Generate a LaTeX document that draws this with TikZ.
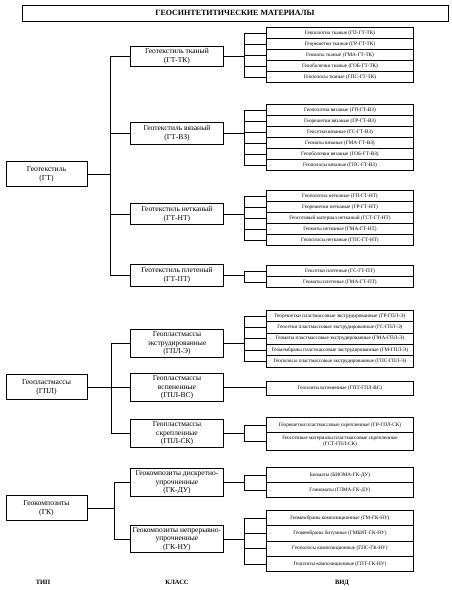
\documentclass[tikz,border=0pt]{standalone}
\usepackage{fontspec}
\setmainfont{Liberation Serif}
\usepackage{tikz}
\tikzset{
  box/.style={draw, line width=.9pt, inner sep=1pt, align=center},
  typebox/.style={box, minimum width=81pt, minimum height=25pt, font=\fontsize{7.6}{9}\selectfont},
  classbox/.style={box, minimum width=93pt, anchor=north west, font=\fontsize{7.5}{8.6}\selectfont},
  kindbox/.style={box, minimum width=147pt, anchor=north west, inner sep=0pt, font=\fontsize{5.2}{6}\selectfont},
  heading/.style={font=\bfseries\fontsize{6.5}{8}\selectfont},
  link/.style={line width=.9pt}
}
\begin{document}
\begin{tikzpicture}[x=1pt,y=-1pt]
    \useasboundingbox (0,0) rectangle (451,590);

    % Title
    \node[box, minimum width=426pt, minimum height=16pt, font=\bfseries\fontsize{8}{9}\selectfont] (title) at (235,13) {ГЕОСИНТЕТИТИЧЕСКИЕ МАТЕРИАЛЫ};

    % Trunks and bracket columns
    \coordinate (gttrunk) at (110,0);
    \coordinate (gpltrunk) at (111,0);
    \coordinate (gktrunk) at (114,0);
    \coordinate (kx) at (244,0);

    % Types
    \node[typebox] (gt) at (46.5,174) {Геотекстиль\\(ГТ)};
    \node[typebox] (gpl) at (46.5,387) {Геопластмассы\\(ГПЛ)};
    \node[typebox] (gk) at (46.5,508) {Геокомпозиты\\(ГК)};

    % Classes
    \node[classbox, minimum height=20pt] (gttk) at (130,46) {Геотекстиль тканый\\(ГТ-ТК)};
    \node[classbox, minimum height=22pt] (gtvz) at (130,122) {Геотекстиль вязаный\\(ГТ-ВЗ)};
    \node[classbox, minimum height=21pt] (gtnt) at (130,203) {Геотекстиль нетканый\\(ГТ-НТ)};
    \node[classbox, minimum height=22pt] (gtpt) at (130,264) {Геотекстиль плетеный\\(ГТ-ПТ)};
    \node[classbox, minimum height=28pt] (gple) at (130,329) {Геопластмассы\\экструдированные\\(ГПЛ-Э)};
    \node[classbox, minimum height=28pt] (gplvs) at (130,373) {Геопластмассы\\вспененные\\(ГПЛ-ВС)};
    \node[classbox, minimum height=28pt] (gplsk) at (130,419) {Геопластмассы\\скрепленные\\(ГПЛ-СК)};
    \node[classbox, minimum height=28pt] (gkdu) at (130,468) {Геокомпозиты дискретно-\\упрочненные\\(ГК-ДУ)};
    \node[classbox, minimum height=27pt] (gknu) at (130,525) {Геокомпозиты непрерывно-\\упрочненные\\(ГК-НУ)};

    % Type to class links
    \draw[link] (gt.east) -- (gt.east -| gttrunk);
    \draw[link] (gttk.west -| gttrunk) -- (gtpt.west -| gttrunk);
    \foreach \c in {gttk,gtvz,gtnt,gtpt}
        \draw[link] (\c.west) -- (\c.west -| gttrunk);
    \draw[link] (gpl.east) -- (gpl.east -| gpltrunk);
    \draw[link] (gple.west -| gpltrunk) -- (gplsk.west -| gpltrunk);
    \foreach \c in {gple,gplvs,gplsk}
        \draw[link] (\c.west) -- (\c.west -| gpltrunk);
    \draw[link] (gk.east) -- (gk.east -| gktrunk);
    \draw[link] (gkdu.west -| gktrunk) -- (gknu.west -| gktrunk);
    \foreach \c in {gkdu,gknu}
        \draw[link] (\c.west) -- (\c.west -| gktrunk);

    % Kinds
    \foreach \t [count=\i] in {Геополотна тканые (ГП-ГТ-ТК),Георешетки тканые (ГР-ГТ-ТК),Геоматы тканые (ГМА-ГТ-ТК),Геооболочки тканые (ГОБ-ГТ-ТК),Геополосы тканые (ГПС-ГТ-ТК)}
        \node[kindbox, minimum height=11pt] (tk\i) at (266,{27+11*(\i-1)}) {\t};
    \foreach \t [count=\i] in {Геополотна вязаные (ГП-ГТ-ВЗ),Георешетки вязаные (ГР-ГТ-ВЗ),Геосетки вязаные (ГС-ГТ-ВЗ),Геоматы вязаные (ГМА-ГТ-ВЗ),Геооболочки вязаные (ГОБ-ГТ-ВЗ),Геополосы вязаные (ГПС-ГТ-ВЗ)}
        \node[kindbox, minimum height=11pt] (vz\i) at (266,{104+11*(\i-1)}) {\t};
    \foreach \t [count=\i] in {Геополотна нетканые (ГП-ГТ-НТ),Георешетки нетканые (ГР-ГТ-НТ),Геосотовый материал нетканый (ГСТ-ГТ-НТ),Геоматы нетканые (ГМА-ГТ-НТ),Геополосы нетканые (ГПС-ГТ-НТ)}
        \node[kindbox, minimum height=11pt] (nt\i) at (266,{190+11*(\i-1)}) {\t};
    \foreach \t [count=\i] in {Геосетки плетеные (ГС-ГТ-ПТ),Геоматы плетеные (ГМА-ГТ-ПТ)}
        \node[kindbox, minimum height=11pt] (pt\i) at (266,{265+11*(\i-1)}) {\t};
    \foreach \t [count=\i] in {Георешетки пластмассовые экструдированные (ГР-ГПЛ-Э),Геосетки пластмассовые экструдированные (ГС-ГПЛ-Э),Геоматы пластмассовые экструдированные (ГМА-ГПЛ-Э),Геомембраны пластмассовые экструдированные (ГМ-ГПЛ-Э),Геополосы пластмассовые экструдированные (ГПС-ГПЛ-Э)}
        \node[kindbox, minimum height=11.3pt] (e\i) at (266,{310+11.3*(\i-1)}) {\t};
    \node[kindbox, minimum height=14pt] (vs1) at (266,381) {Геоплиты вспененные (ГПТ-ГПЛ-ВС)};
    \node[kindbox, minimum height=15pt] (sk1) at (266,417) {Георешетки пластмассовые скрепленные (ГР-ГПЛ-СК)};
    \node[kindbox, minimum height=18pt] (sk2) at (266,432) {Геосотовые материалы пластмассовые скрепленные\\(ГСТ-ГПЛ-СК)};
    \foreach \t [count=\i] in {Биоматы (БИОМА-ГК-ДУ),Глиноматы (ГЛМА-ГК-ДУ)}
        \node[kindbox, minimum height=15pt] (du\i) at (266,{467+15*(\i-1)}) {\t};
    \foreach \t [count=\i] in {Геомембраны композиционные (ГМ-ГК-НУ),Геомембраны битумные (ГМБИТ-ГК-НУ),Геополосы композиционные (ГПС-ГК-НУ),Геоплиты композиционные (ГПТ-ГК-НУ)}
        \node[kindbox, minimum height=15.3pt] (nu\i) at (266,{510+15.3*(\i-1)}) {\t};

    % Class to kind brackets
    \foreach \g/\n/\c in {tk/5/gttk,vz/6/gtvz,nt/5/gtnt,pt/2/gtpt,e/5/gple,sk/2/gplsk,du/2/gkdu,nu/4/gknu}{
        \draw[link] (\g1.west -| kx) -- (\g\n.west -| kx);
        \foreach \i in {1,...,\n}
            \draw[link] (\g\i.west) -- (\g\i.west -| kx);
        \draw[link] (\c.east) -- (\c.east -| kx);
    }
    \draw[link] (gplvs.east) -- (gplvs.east -| vs1.west);

    % Column headings
    \node[heading] (htype) at (43,582) {ТИП};
    \node[heading] (hclass) at (177,582) {КЛАСС};
    \node[heading] (hkind) at (342,583) {ВИД};
\end{tikzpicture}
\end{document}
